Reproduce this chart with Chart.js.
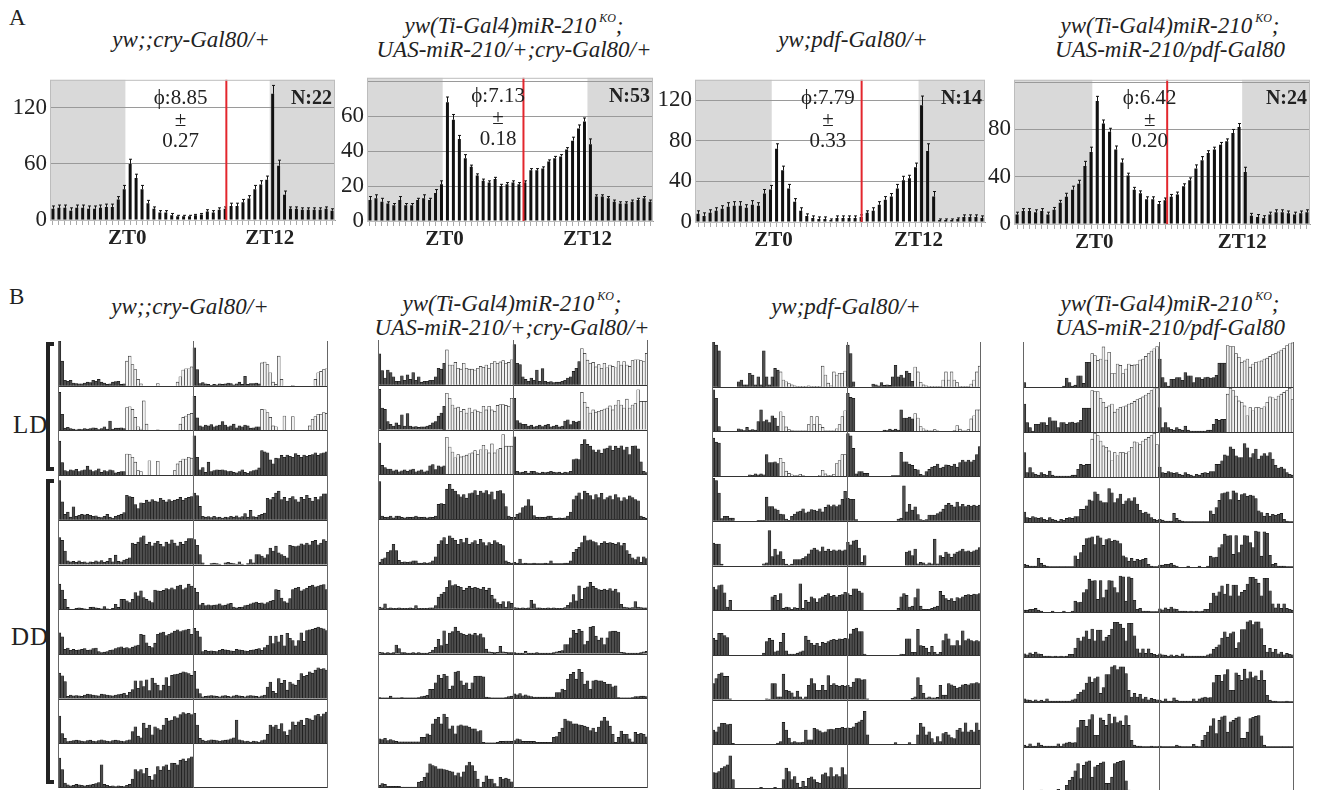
<!DOCTYPE html>
<html>
<head>
<meta charset="utf-8">
<script src="https://cdn.jsdelivr.net/npm/chart.js@4.4.1/dist/chart.umd.min.js"></script>
<style>
  body { margin: 0; background: #fff; width: 1321px; height: 790px; overflow: hidden; position: relative;
         font-family: 'Liberation Serif', 'DejaVu Serif', 'Times New Roman', serif; color: #222; }
  canvas { position: absolute; }
  .title { position: absolute; transform: translateX(-50%); white-space: nowrap; font-style: italic;
           font-size: 23px; line-height: 24px; text-align: center; }
  .title sup { font-size: 12px; position: relative; top: -2px; margin-left: 3px; }
  .panel { position: absolute; font-size: 23px; }
  .cond { position: absolute; font-size: 25px; letter-spacing: 1px; }
  .bracket { position: absolute; box-sizing: border-box; border: 4px solid #222; border-right: none; width: 8px; }
</style>
</head>
<body>
<div class="panel" style="left:9px;top:5px">A</div>
<div class="panel" style="left:9px;top:284px">B</div>

<div class="title" style="left:191px;top:28px">yw;;cry-Gal80/+</div>
<div class="title" style="left:514px;top:8px">yw(Ti-Gal4)miR-210<sup>KO</sup>;<br>UAS-miR-210/+;cry-Gal80/+</div>
<div class="title" style="left:853px;top:28px">yw;pdf-Gal80/+</div>
<div class="title" style="left:1170px;top:8px">yw(Ti-Gal4)miR-210<sup>KO</sup>;<br>UAS-miR-210/pdf-Gal80</div>

<div class="title" style="left:190px;top:295px">yw;;cry-Gal80/+</div>
<div class="title" style="left:512px;top:286px">yw(Ti-Gal4)miR-210<sup>KO</sup>;<br>UAS-miR-210/+;cry-Gal80/+</div>
<div class="title" style="left:846px;top:295px">yw;pdf-Gal80/+</div>
<div class="title" style="left:1170px;top:286px">yw(Ti-Gal4)miR-210<sup>KO</sup>;<br>UAS-miR-210/pdf-Gal80</div>

<div class="cond" style="left:13px;top:411px">LD</div>
<div class="cond" style="left:11px;top:623px">DD</div>
<div class="bracket" style="left:46px;top:342px;height:129px"></div>
<div class="bracket" style="left:46px;top:479px;height:305px"></div>

<canvas id="a1" width="335" height="191" style="left:4px;top:63px"></canvas>
<canvas id="a2" width="336" height="194" style="left:321px;top:61px"></canvas>
<canvas id="a3" width="340" height="193" style="left:649px;top:63px"></canvas>
<canvas id="a4" width="346" height="195" style="left:968px;top:63px"></canvas>

<canvas id="b1" width="270" height="447" style="left:58px;top:341px"></canvas>
<canvas id="b2" width="270" height="448" style="left:378px;top:340px"></canvas>
<canvas id="b3" width="269" height="447" style="left:712px;top:342px"></canvas>
<canvas id="b4" width="271" height="450" style="left:1023px;top:342px"></canvas>

<script>
Chart.defaults.font.family = "'Liberation Serif', 'DejaVu Serif', 'Times New Roman', serif";

// 30 min bins, ZT18 -> ZT18 in panel A; ZT12 -> ZT12 per actogram day in panel B
const BINS = 48;
const LIGHTS_ON = 12.7, LIGHTS_OFF = 37;   // panel A shading, in bins
const ZT0_TICK = 13, ZT12_TICK = 37;
const PHASE_ZERO = 12;                      // bin where phase is counted from
const TEXT_BIN = 22;
const LIGHT_BIN = 24;                       // actogram: light phase from this bin on
const LD_DAYS = 3;
const ROW_UNITS = 100;

// ---- panel A: average activity profiles (counts / 30 min) ----
const activityCryG80 = [12,13,13,10,13,13,12,12,13,14,14,22,33, 60,45,33,18,12,8,8,5,4,4,4,5,6,9,8,11,12,15,15,19,23,33,38,43,135, 58,27,12,12,11,11,11,11,12,10];
const semCryG80      = [3,3,3,3,3,3,3,3,3,3,3,3,4, 5,4,4,3,2,2,2,2,1,1,1,1,1,2,2,2,2,3,3,3,3,4,4,4,9, 6,4,2,2,2,2,2,2,2,2];
const activityMiRCry = [12,13,11,10,9,12,9,9,12,13,12,16,21, 68,58,47,36,31,26,23,22,24,20,21,22,21,22,29,29,30,34,36,37,41,46,53,57, 44, 14,14,13,11,10,10,11,12,13,11];
const semMiRCry      = [2,2,2,1,1,2,1,1,1,2,1,2,2, 3,3,2,2,1,1,1,1,1,1,1,1,1,1,1,1,1,1,1,1,1,2,2,2, 3, 1,1,1,1,1,1,1,1,1,1];
const activityPdfG80 = [8,6,9,11,13,15,16,16,14,17,16,28,32, 72,51,33,20,11,6,4,3,3,2,4,4,4,4,5,9,11,17,22,25,33,41,43,54, 115, 70,25,2,2,2,3,5,5,5,4];
const semPdfG80      = [3,3,3,3,3,4,4,4,3,4,3,4,4, 5,4,4,3,3,2,2,2,2,1,2,2,2,2,2,2,3,3,3,3,4,4,3,4, 9, 7,5,1,1,1,1,2,2,2,2];
const activityMiRPdf = [8,11,11,10,11,8,12,18,23,29,34,49,61, 104,85,78,63,52,41,29,26,21,21,17,20,23,25,32,37,47,54,60,63,67,70,77,82, 44, 7,6,5,8,10,10,9,8,9,10];
const semMiRPdf      = [2,2,2,2,2,2,2,2,3,3,3,4,4, 4,3,3,3,3,2,2,2,2,2,2,2,2,2,2,2,3,3,2,2,2,2,3,3, 4, 2,2,2,2,2,2,2,2,2,2];

const phases    = [8.85, 7.13, 7.79, 6.42];
const phaseSems = [0.27, 0.18, 0.33, 0.20];
const flyCounts = [22, 53, 14, 24];
const yMaxes    = [150, 82, 140, 122];
const ySteps    = [30, 10, 20, 20];
const yLabels   = [[0, 60, 120], [0, 20, 40, 60], [0, 40, 80, 120], [0, 40, 80]];

// ---- panel B: actograms, one array per day (48 bins, % of row height) ----
const actoCryG80 = [
  [100,55,12,10,12,6,5,4,4,6,8,7,12,10,14,8,6,3,4,8,9,10,3,4, 55,66,47,36,14,4,0,0,0,0,0,5,0,0,0,0,0,0,8,20,35,38,38,42],
  [85,36,5,7,4,3,1,3,2,4,3,4,6,5,2,4,8,3,21,3,5,5,6,4, 51,53,47,29,8,3,66,14,0,0,0,1,0,0,0,0,0,0,0,14,29,32,36,38],
  [76,28,10,8,12,10,13,8,10,12,20,12,8,10,14,6,10,8,12,10,5,6,8,8, 47,46,40,29,10,8,0,0,32,0,0,31,0,0,0,0,0,10,25,31,36,36,40,38],
  [88,40,12,17,6,29,8,10,12,11,12,10,8,9,6,5,8,12,6,4,8,10,12,16, 55,52,50,34,25,38,37,44,40,45,42,40,48,44,40,45,42,44,46,50,44,48,50,52],
  [60,54,30,8,6,7,5,8,5,6,4,6,5,8,6,9,5,7,14,6,21,7,6,10, 12,15,48,45,50,60,64,45,50,42,48,52,45,40,50,46,55,48,42,50,45,52,58,58],
  [56,43,22,4,0,0,2,3,2,1,0,4,5,3,2,1,6,1,0,2,11,4,22,22, 19,15,22,37,30,41,26,22,19,15,43,41,40,42,46,44,48,44,52,54,44,48,56,52],
  [47,38,10,13,8,10,8,9,10,12,8,9,12,13,5,3,4,5,8,9,12,14,16,13, 14,12,15,18,20,44,42,25,17,14,24,44,47,49,41,44,47,51,54,50,52,54,55,44],
  [57,51,38,5,8,6,7,6,5,8,10,9,8,7,6,10,9,8,7,6,8,9,10,12, 8,14,20,40,23,40,27,42,18,46,35,30,18,30,47,28,52,54,55,57,60,58,56,52],
  [61,22,11,4,5,6,7,6,5,4,6,7,5,4,6,8,6,5,4,6,7,6,5,4, 6,8,26,37,16,12,45,34,41,19,37,33,30,41,56,50,52,60,57,64,69,66,67,64],
  [67,41,11,7,5,6,8,7,6,5,6,7,8,10,12,52,8,6,4,5,3,5,4,3, 6,8,20,41,37,41,32,44,26,18,30,48,40,48,52,40,56,55,52,62,65,60,66,70]
];
const actoMiRCry = [
  [69,32,15,33,27,18,8,8,20,10,22,12,27,10,18,6,8,8,10,10,18,37,35,48, 78,44,44,50,37,35,48,37,35,35,33,37,41,39,44,37,48,52,48,51,54,48,50,56],
  [90,48,45,18,12,8,15,10,33,8,36,8,6,7,5,6,6,8,10,15,18,30,37,52, 81,70,55,48,50,40,45,37,48,38,44,41,38,52,44,52,44,41,54,56,56,54,52,70],
  [70,20,15,12,12,8,10,6,8,10,7,10,12,6,8,10,6,8,19,22,11,19,17,19, 83,61,50,37,44,39,41,43,46,48,53,44,55,65,55,48,68,48,55,58,89,63,63,63],
  [84,7,4,5,7,3,7,7,4,3,5,4,5,7,5,4,5,3,5,4,7,33,35,33, 67,78,67,63,55,50,55,47,57,59,64,54,63,59,64,55,61,44,63,64,57,28,7,4],
  [4,11,14,26,30,44,30,8,4,5,4,5,7,7,2,2,3,2,3,7,16,44,52,59, 44,63,58,53,44,55,48,58,44,48,52,44,55,48,41,48,44,52,48,44,41,7,4,2],
  [4,2,11,1,2,1,1,2,1,1,1,2,1,7,1,1,1,1,2,2,7,26,33,37, 48,63,52,54,50,48,41,46,50,46,48,46,44,48,41,46,30,22,14,10,16,4,16,12],
  [3,2,1,2,1,2,19,11,2,2,1,1,2,1,2,1,1,1,3,8,14,32,18,51, 21,46,49,59,50,46,43,41,44,42,45,40,44,36,10,4,3,2,3,16,4,3,2,2],
  [2,1,1,1,5,1,1,1,2,1,1,1,1,1,2,4,5,7,20,20,35,52,45,54, 50,20,28,59,61,39,30,35,20,35,49,50,50,48,3,2,1,1,1,1,1,2,4,5],
  [10,8,11,6,8,6,4,3,3,3,3,3,3,3,3,13,13,21,18,43,54,58,43,65, 58,32,39,21,39,41,39,39,36,32,32,26,28,2,1,1,1,1,2,4,4,5,5,4],
  [6,10,8,4,4,4,4,4,2,2,2,2,2,2,13,15,24,34,54,50,48,43,43,41, 40,38,36,28,34,25,36,50,58,50,38,20,2,13,27,20,20,10,3,24,20,22,20,14]
];
const actoPdfG80 = [
  [100,93,80,0,0,0,0,0,0,11,15,4,4,30,26,4,22,4,80,22,4,22,41,37, 33,15,11,7,4,2,1,1,1,1,2,1,1,1,1,46,26,8,2,33,26,30,30,35],
  [93,74,11,0,0,0,0,0,0,6,4,2,9,3,4,3,22,48,22,26,20,35,30,12, 44,33,10,4,2,1,1,1,1,1,15,33,15,33,15,9,1,1,1,1,6,15,33,46],
  [85,76,74,0,0,0,0,0,0,0,0,0,0,3,2,5,3,5,3,48,30,30,32,28, 40,30,11,6,3,1,1,4,1,0,0,0,0,0,2,13,5,1,1,4,28,35,48,48],
  [95,90,62,5,10,10,6,6,0,0,0,0,0,0,0,0,1,1,1,53,32,32,27,24, 15,14,4,1,10,15,20,22,27,18,20,25,24,22,27,20,30,36,32,36,32,36,48,66],
  [50,48,48,3,0,0,0,0,0,0,0,0,0,0,0,0,0,0,4,6,78,20,37,24, 31,14,3,1,3,13,13,13,16,20,26,35,39,35,31,42,32,37,32,35,33,35,33,35],
  [52,46,55,57,39,7,22,0,0,0,0,0,0,0,0,0,0,0,0,0,0,30,33,22, 37,4,7,6,2,6,4,59,4,22,18,30,26,18,26,30,33,37,31,33,30,33,35,40],
  [37,33,48,48,43,39,0,0,0,0,0,0,0,0,0,0,0,0,4,30,37,33,7,9, 28,48,9,2,2,2,4,7,9,42,33,26,22,26,20,28,26,30,33,35,33,36,35,37],
  [36,47,57,60,52,52,2,0,0,0,0,0,0,0,0,0,0,0,0,2,1,36,36,6, 6,57,21,19,15,6,19,6,2,6,32,47,36,21,21,32,21,54,32,36,32,30,32,30],
  [32,28,39,47,47,44,45,2,0,0,0,0,0,0,0,0,0,0,0,0,0,0,0,3, 6,49,32,14,4,6,4,4,5,32,10,10,36,33,30,26,28,33,34,33,36,36,38,36],
  [37,36,39,47,50,54,74,21,0,0,0,0,0,0,0,0,0,4,0,0,0,0,4,0, 0,21,47,39,21,28,13,4,17,6,24,27,21,15,13,32,36,28,48,28,32,28,48,32]
];
const actoMiRPdf = [
  [10,0,0,0,0,0,0,0,0,0,0,0,0,0,2,20,10,2,4,25,25,8,55,55, 74,70,59,62,89,60,77,30,30,51,48,30,40,51,48,49,50,60,62,68,74,80,85,90],
  [62,21,10,2,17,17,21,21,15,32,25,25,10,21,21,17,21,22,20,21,26,53,53,53, 92,90,90,74,66,55,58,62,44,51,55,56,58,62,64,68,72,74,78,82,86,92,96,98],
  [54,10,21,10,6,4,10,6,4,13,4,2,2,2,2,2,2,4,4,17,28,26,28,28, 84,97,92,80,69,66,58,36,54,47,54,54,52,56,66,78,76,72,80,84,88,92,97,72],
  [22,10,8,12,10,8,10,6,4,10,6,4,2,6,4,8,10,8,12,12,28,28,36,49, 47,67,62,47,43,43,74,65,43,52,62,40,47,52,47,54,40,26,20,22,18,10,6,4],
  [6,4,2,2,2,19,8,4,2,1,1,1,1,1,1,1,1,1,25,17,32,48,63,65, 67,50,69,65,48,61,63,57,60,58,52,25,21,13,19,13,17,15,17,19,6,2,1,1],
  [4,4,6,6,8,4,2,0,0,0,2,0,0,0,2,0,0,2,24,21,22,43,50,73, 69,70,28,70,32,49,70,69,54,43,80,78,24,78,75,26,6,8,2,2,2,1,1,1],
  [7,5,9,6,11,7,6,2,2,2,1,2,1,2,1,2,6,6,20,42,36,45,58,40, 62,36,60,60,36,44,48,62,77,77,73,64,36,75,75,47,18,9,18,8,18,8,6,4],
  [7,5,4,2,5,2,4,2,7,2,2,2,2,2,2,2,2,5,7,17,22,27,42,56, 44,52,56,19,32,61,61,78,81,72,78,78,63,26,11,19,11,17,7,11,5,8,6,5],
  [4,2,7,2,2,9,4,2,2,2,2,2,7,2,7,9,11,9,10,43,59,59,46,61, 72,26,26,65,59,48,73,52,67,54,58,48,70,48,15,4,2,2,1,1,1,2,1,1],
  [2,1,1,1,1,1,4,2,1,1,1,1,6,2,1,15,26,33,47,63,30,59,67,69, 33,56,59,64,67,19,19,33,63,66,68,70,25,4,1,1,1,1,1,1,1,1,1,1]
];

// shading, error bars, phase line and labels for the profiles
const profileDecor = {
  id: 'profileDecor',
  beforeDraw(chart, args, o) {
    const { ctx, chartArea: a, scales: { x } } = chart;
    const on = x.getPixelForValue(LIGHTS_ON), off = x.getPixelForValue(LIGHTS_OFF);
    ctx.save();
    ctx.fillStyle = '#d9d9d9';
    ctx.fillRect(a.left, a.top, on - a.left, a.bottom - a.top);
    ctx.fillRect(off, a.top, a.right - off, a.bottom - a.top);
    ctx.restore();
  },
  afterDatasetsDraw(chart, args, o) {
    const { ctx, chartArea: a, scales: { x, y } } = chart;
    const vals = chart.data.datasets[0].data;
    ctx.save();
    ctx.strokeStyle = '#111';
    ctx.lineWidth = 1;
    vals.forEach((p, i) => {
      const px = Math.round(x.getPixelForValue(p.x)) + 0.5;
      const y0 = y.getPixelForValue(p.y), y1 = y.getPixelForValue(p.y + o.sem[i]);
      ctx.beginPath();
      ctx.moveTo(px, y0); ctx.lineTo(px, y1);
      ctx.moveTo(px - 1.5, y1); ctx.lineTo(px + 1.5, y1);
      ctx.stroke();
    });
    const rx = x.getPixelForValue(PHASE_ZERO + 2 * o.phase);
    ctx.strokeStyle = '#e3262d';
    ctx.lineWidth = 2;
    ctx.beginPath();
    ctx.moveTo(rx, a.top); ctx.lineTo(rx, a.bottom);
    ctx.stroke();
    ctx.restore();
  },
  afterDraw(chart, args, o) {
    const { ctx, chartArea: a, scales: { x } } = chart;
    ctx.save();
    ctx.strokeStyle = '#bdbdbd';
    ctx.lineWidth = 1;
    ctx.strokeRect(a.left + 0.5, a.top + 0.5, a.right - a.left - 1, a.bottom - a.top);
    const tx = x.getPixelForValue(TEXT_BIN);
    ctx.fillStyle = '#222';
    ctx.textAlign = 'center';
    ctx.textBaseline = 'middle';
    ctx.font = "21px 'Liberation Serif', 'DejaVu Serif', serif";
    ctx.fillText('\u03d5:' + o.phase.toFixed(2), tx, a.top + 19);
    ctx.fillText('\u00b1', tx, a.top + 41);
    ctx.fillText(o.phaseSem.toFixed(2), tx, a.top + 62);
    ctx.font = "bold 20px 'Liberation Serif', 'DejaVu Serif', serif";
    ctx.textAlign = 'right';
    ctx.fillText('N:' + o.n, a.right - 3, a.top + 19);
    ctx.restore();
  }
};

function drawProfile(id, values, sem, k) {
  const yMax = yMaxes[k], step = ySteps[k], labels = yLabels[k];
  new Chart(document.getElementById(id), {
    type: 'bar',
    data: {
      datasets: [{
        data: values.map((v, i) => ({ x: i + 0.5, y: v })),
        backgroundColor: '#111', borderWidth: 0,
        barPercentage: 0.5, categoryPercentage: 1,
      }],
    },
    options: {
      responsive: false, animation: false,
      layout: { padding: { top: 4, right: 4, left: 0, bottom: 0 } },
      plugins: {
        legend: { display: false }, tooltip: { enabled: false },
        profileDecor: { sem, phase: phases[k], phaseSem: phaseSems[k], n: flyCounts[k] },
      },
      scales: {
        x: {
          type: 'linear', min: 0, max: BINS, offset: false,
          afterFit: s => { s.height = 34; },
          afterBuildTicks: s => { s.ticks = Array.from({ length: BINS + 1 }, (_, i) => ({ value: i })); },
          grid: { drawOnChartArea: false, tickLength: 5, color: '#aaa' },
          border: { color: '#999' },
          ticks: {
            autoSkip: false, maxRotation: 0, padding: 1, color: '#222',
            font: { size: 21, weight: 'bold' },
            callback: v => v === ZT0_TICK ? 'ZT0' : v === ZT12_TICK ? 'ZT12' : '',
          },
        },
        y: {
          min: 0, max: yMax,
          afterFit: s => { s.width = 46; },
          afterBuildTicks: s => {
            const t = [];
            for (let v = 0; v <= yMax; v += step) t.push({ value: v });
            s.ticks = t;
          },
          grid: { color: '#9a9a9a', drawTicks: false },
          border: { display: false },
          ticks: { padding: 3, color: '#222', font: { size: 23 }, callback: v => labels.includes(v) ? v : '' },
        },
      },
    },
    plugins: [profileDecor],
  });
}

// row baselines and the day dividers of a double plot
const actoFrame = {
  id: 'actoFrame',
  afterDraw(chart) {
    const { ctx, chartArea: a, scales: { x, y } } = chart;
    const rows = y.max / ROW_UNITS;
    ctx.save();
    ctx.lineWidth = 1;
    ctx.strokeStyle = '#333';
    for (let r = 0; r < rows; r++) {
      const py = Math.min(Math.round(y.getPixelForValue(r * ROW_UNITS)) + 0.5, a.bottom - 0.5);
      ctx.beginPath(); ctx.moveTo(a.left, py); ctx.lineTo(a.right, py); ctx.stroke();
    }
    ctx.strokeStyle = '#666';
    [0, BINS, 2 * BINS].forEach(v => {
      const px = Math.min(Math.max(Math.round(x.getPixelForValue(v)) + 0.5, a.left + 0.5), a.right - 0.5);
      ctx.beginPath(); ctx.moveTo(px, a.top); ctx.lineTo(px, a.bottom); ctx.stroke();
    });
    ctx.restore();
  }
};

function drawActogram(id, days) {
  const rows = days.length;
  const bars = [];
  for (let r = 0; r < rows; r++) {
    const base = (rows - 1 - r) * ROW_UNITS;
    for (let half = 0; half < 2; half++) {
      const d = r + half;
      if (d >= rows) continue;
      days[d].forEach((v, b) => {
        if (v > 0) bars.push({ x: half * BINS + b + 0.5, y: [base, base + v], light: d < LD_DAYS && b >= LIGHT_BIN });
      });
    }
  }
  new Chart(document.getElementById(id), {
    type: 'bar',
    data: {
      datasets: [{
        data: bars,
        backgroundColor: c => (c.raw && c.raw.light) ? '#f2f2f2' : '#4e4e4e',
        borderColor: c => (c.raw && c.raw.light) ? '#262626' : '#111',
        borderWidth: 0.6,
        barPercentage: 1, categoryPercentage: 1,
      }],
    },
    options: {
      responsive: false, animation: false,
      layout: { padding: 0 },
      plugins: { legend: { display: false }, tooltip: { enabled: false } },
      scales: {
        x: { type: 'linear', display: false, min: 0, max: 2 * BINS, offset: false },
        y: { display: false, min: 0, max: rows * ROW_UNITS },
      },
    },
    plugins: [actoFrame],
  });
}

drawProfile('a1', activityCryG80, semCryG80, 0);
drawProfile('a2', activityMiRCry, semMiRCry, 1);
drawProfile('a3', activityPdfG80, semPdfG80, 2);
drawProfile('a4', activityMiRPdf, semMiRPdf, 3);

drawActogram('b1', actoCryG80);
drawActogram('b2', actoMiRCry);
drawActogram('b3', actoPdfG80);
drawActogram('b4', actoMiRPdf);
</script>
</body>
</html>
